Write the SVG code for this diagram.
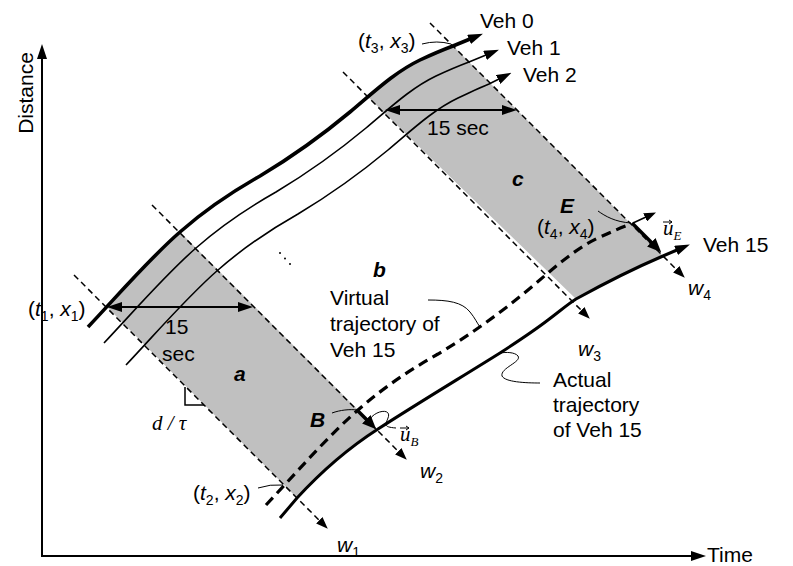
<svg xmlns="http://www.w3.org/2000/svg" width="793" height="566" viewBox="0 0 793 566">
<style>
.t{font-family:"Liberation Sans",Arial,sans-serif;font-size:21px;fill:#000}
.it{font-style:italic}
.bi{font-weight:bold;font-style:italic}
.sub{font-size:14px}
.sr{font-family:"Liberation Serif","Times New Roman",serif;font-style:italic;font-size:21px;fill:#000}
.ln{stroke:#000;fill:none}
.wave{stroke-width:1.5;stroke-dasharray:6 4}
.v0{stroke-width:3.6}
.vn{stroke-width:1.6}
.act{stroke-width:3}
.virt{stroke-width:3.2;stroke-dasharray:10 6}
.lead{stroke-width:1}
.shade{fill:#c0c0c0;stroke:none}
</style>
<defs>
<marker id="ah" viewBox="0 0 15 10" refX="1" refY="5" markerWidth="15" markerHeight="10" markerUnits="userSpaceOnUse" orient="auto"><path d="M0,0 L15,5 L0,10 Z" fill="#000"/></marker>
<marker id="ahd" viewBox="0 0 15 10" refX="1" refY="5" markerWidth="15" markerHeight="10" markerUnits="userSpaceOnUse" orient="auto-start-reverse"><path d="M0,0 L15,5 L0,10 Z" fill="#000"/></marker>
<marker id="ahs" viewBox="0 0 12 9" refX="1" refY="4.5" markerWidth="12" markerHeight="9" markerUnits="userSpaceOnUse" orient="auto"><path d="M0,0 L12,4.5 L0,9 Z" fill="#000"/></marker>
<marker id="ahb" viewBox="0 0 14 12" refX="1" refY="6" markerWidth="14" markerHeight="12" markerUnits="userSpaceOnUse" orient="auto"><path d="M0,0 L14,6 L0,12 Z" fill="#000"/></marker>
</defs>

<g id="regions">
<path id="region-a" class="shade" d="M107,307 C130,282 155,256 180,232 L378,430 C350,447 320,473 297,498 Z"/>
<path id="region-c" class="shade" d="M368,97 C382,82 400,68 420,60 C435,53 445,49 453,46 L663,256 C635,268 605,283 576,299 Z"/>
</g>

<g id="axes">
<path class="ln" stroke-width="2" d="M42,556 L42,58" marker-end="url(#ah)"/>
<path class="ln" stroke-width="2" d="M41,556 L692,556" marker-end="url(#ah)"/>
<text class="t" transform="translate(33,93) rotate(-90)" text-anchor="middle">Distance</text>
<text class="t" x="707" y="562">Time</text>
</g>

<g id="connectors">
<g id="waves">
<path class="ln wave" d="M74,275 L320,521" marker-end="url(#ahs)"/>
<path class="ln wave" d="M152,205 L399,452" marker-end="url(#ahs)"/>
<path class="ln wave" d="M343,72 L582,311" marker-end="url(#ahs)"/>
<path class="ln wave" d="M430,23 L677,270" marker-end="url(#ahs)"/>
</g>
<g id="trajectories">
<path class="ln v0" d="M88,327 C120,293 150,258 180,232 C205,210 230,193 260,176 C290,158 320,137 350,112 C375,91 395,72 420,60 C435,53 445,49 453,46 L470,39" marker-end="url(#ah)"/>
<path class="ln vn" d="M104,343 C136,309 166,274 196,248 C221,226 246,209 276,192 C306,174 336,153 366,128 C391,107 411,88 436,76 C451,69 461,65 469,62 L486,55" marker-end="url(#ah)"/>
<path class="ln vn" d="M126,365 C158,331 188,296 218,270 C243,248 268,231 298,214 C328,196 358,175 388,150 C413,129 433,110 458,98 C471,92 481,87 489,84 L499,79" marker-end="url(#ah)"/>
<path class="ln virt" d="M266,505 C298,471 328,436 358,410 C383,388 408,371 438,354 C468,336 498,315 528,290 C553,269 573,250 598,238 C613,231 623,227 631,224"/>
<path class="ln act" d="M280,518 L297,498 C320,473 350,447 378,429 C420,402 460,378 500,353 C520,340 535,330 548,320 C560,311 568,304 576,299 C605,283 635,268 663,256 L677,250" marker-end="url(#ah)"/>
</g>
<g id="vectors">
<path class="ln" stroke-width="3.6" d="M357,410 L367,420" marker-end="url(#ahb)"/>
<path class="ln" stroke-width="3.6" d="M632,223 L652,243" marker-end="url(#ahb)"/>
<path class="ln" stroke-width="1.6" d="M633,223 L646,217" marker-end="url(#ahs)"/>
<path class="ln" stroke-width="2" d="M399,110 L503,110" marker-start="url(#ahd)" marker-end="url(#ahd)"/>
<path class="ln" stroke-width="2" d="M121,307 L239,307" marker-start="url(#ahd)" marker-end="url(#ahd)"/>
<path class="ln" stroke-width="1.5" d="M185,387 L185,405 L204,405"/>
</g>
<g id="leaders">
<path class="ln lead" d="M422,44 Q437,40 451,44"/>
<path class="ln lead" d="M258,488 Q270,484 283,485"/>
<path class="ln lead" d="M598,211 C605,216 615,222 631,223"/>
<path class="ln lead" d="M332,413 C340,410 350,409 357,410"/>
<path class="ln lead" d="M370,419 C376,410 392,408 388,418 C386,424 382,427 396,428"/>
<path class="ln lead" d="M428,300 C448,300 462,302 470,312 C475,318 477,323 480,327"/>
<path class="ln lead" d="M540,383 C525,383 505,382 502,376 C500,368 522,362 518,356 C515,352 505,352 501,353"/>
</g>
</g>

<g id="dots" fill="#000">
<circle cx="280" cy="253" r="1"/><circle cx="285" cy="258.5" r="1"/><circle cx="290" cy="264" r="1"/>
</g>

<g id="labels">
<text class="t" x="480" y="28">Veh 0</text>
<text class="t" x="507" y="55">Veh 1</text>
<text class="t" x="523" y="82">Veh 2</text>
<text class="t" x="703" y="252">Veh 15</text>
<text class="t" x="427" y="135">15 sec</text>
<text class="t" x="165" y="334">15</text>
<text class="t" x="162" y="361">sec</text>
<text class="t bi" x="234" y="381">a</text>
<text class="t bi" x="373" y="277">b</text>
<text class="t bi" x="512" y="186">c</text>
<text class="t bi" x="560" y="213">E</text>
<text class="t bi" x="310" y="427">B</text>
<text class="t" x="330" y="305">Virtual</text>
<text class="t" x="330" y="331">trajectory of</text>
<text class="t" x="330" y="357">Veh 15</text>
<text class="t" x="553" y="387">Actual</text>
<text class="t" x="553" y="412">trajectory</text>
<text class="t" x="553" y="437">of Veh 15</text>
<text class="t" x="28" y="316">(<tspan class="it">t</tspan><tspan class="sub" dy="5">1</tspan><tspan dy="-5">, </tspan><tspan class="it">x</tspan><tspan class="sub" dy="5">1</tspan><tspan dy="-5">)</tspan></text>
<text class="t" x="193" y="500">(<tspan class="it">t</tspan><tspan class="sub" dy="5">2</tspan><tspan dy="-5">, </tspan><tspan class="it">x</tspan><tspan class="sub" dy="5">2</tspan><tspan dy="-5">)</tspan></text>
<text class="t" x="358" y="48">(<tspan class="it">t</tspan><tspan class="sub" dy="5">3</tspan><tspan dy="-5">, </tspan><tspan class="it">x</tspan><tspan class="sub" dy="5">3</tspan><tspan dy="-5">)</tspan></text>
<text class="t" x="537" y="234">(<tspan class="it">t</tspan><tspan class="sub" dy="5">4</tspan><tspan dy="-5">, </tspan><tspan class="it">x</tspan><tspan class="sub" dy="5">4</tspan><tspan dy="-5">)</tspan></text>
<text class="t" x="337" y="552"><tspan class="it">w</tspan><tspan class="sub" dy="5">1</tspan></text>
<text class="t" x="420" y="478"><tspan class="it">w</tspan><tspan class="sub" dy="5">2</tspan></text>
<text class="t" x="578" y="356"><tspan class="it">w</tspan><tspan class="sub" dy="5">3</tspan></text>
<text class="t" x="688" y="295"><tspan class="it">w</tspan><tspan class="sub" dy="5">4</tspan></text>
<text class="sr" x="152" y="430">d / τ</text>
<text class="sr" x="400" y="441">u<tspan font-size="13" dy="5">B</tspan></text>
<path class="ln" stroke-width="1" d="M400,428 L409,428 M406,426 L409,428 L406,430"/>
<text class="sr" x="663" y="235">u<tspan font-size="13" dy="5">E</tspan></text>
<path class="ln" stroke-width="1" d="M663,222 L672,222 M669,220 L672,222 L669,224"/>
</g>
</svg>
